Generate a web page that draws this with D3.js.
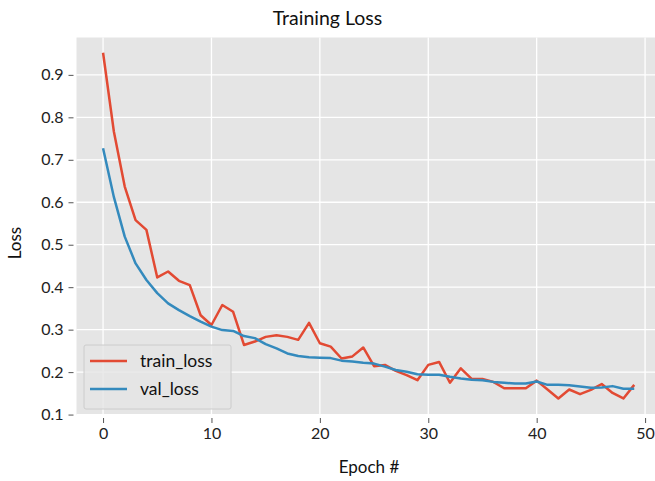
<!DOCTYPE html>
<html>
<head>
<meta charset="utf-8">
<script src="https://cdn.jsdelivr.net/npm/d3@7"></script>
<style>
  html, body { margin: 0; padding: 0; background: #ffffff; }
  svg { display: block; }
  text { font-family: Lato, "Open Sans", sans-serif; }
</style>
</head>
<body>
<svg id="chart" width="655" height="481"></svg>
<script>
const epochs = d3.range(0, 50);
const trainLoss = [0.952, 0.766, 0.637, 0.558, 0.535, 0.423, 0.437, 0.415, 0.405, 0.334,
                   0.311, 0.358, 0.342, 0.264, 0.272, 0.283, 0.287, 0.283, 0.276, 0.316,
                   0.268, 0.260, 0.232, 0.237, 0.258, 0.214, 0.217, 0.203, 0.193, 0.181,
                   0.217, 0.224, 0.175, 0.209, 0.184, 0.184, 0.177, 0.162, 0.162, 0.162,
                   0.180, 0.159, 0.138, 0.159, 0.148, 0.158, 0.172, 0.151, 0.138, 0.170];
const valLoss = [0.727, 0.612, 0.519, 0.456, 0.417, 0.386, 0.362, 0.346, 0.332, 0.319,
                 0.307, 0.299, 0.297, 0.285, 0.280, 0.266, 0.256, 0.244, 0.238, 0.235,
                 0.234, 0.233, 0.227, 0.225, 0.222, 0.220, 0.213, 0.205, 0.201, 0.195,
                 0.194, 0.194, 0.189, 0.185, 0.182, 0.181, 0.177, 0.175, 0.173, 0.173,
                 0.178, 0.170, 0.170, 0.169, 0.166, 0.163, 0.164, 0.167, 0.161, 0.161];
const xTicks = [0, 10, 20, 30, 40, 50];
const yTicks = [0.1, 0.2, 0.3, 0.4, 0.5, 0.6, 0.7, 0.8, 0.9];
const seriesNames = ["train_loss", "val_loss"];
const seriesColors = ["#E24A33", "#348ABD"];
const titleText = "Training Loss";
const xLabel = "Epoch #";
const yLabel = "Loss";

const svg = d3.select("#chart");
const L = 76.5, R = 660.8, T = 37.5, B = 415;

const x = d3.scaleLinear().domain([-2.45, 51.45]).range([L, R]);
const y = d3.scaleLinear().domain([0.099, 0.988]).range([B, T]);

// background
svg.append("rect").attr("x", L).attr("y", T).attr("width", R - L).attr("height", B - T)
  .attr("fill", "#E5E5E5");

// grid
const g = svg.append("g");
g.selectAll(".vg").data(xTicks).join("line")
  .attr("x1", d => x(d)).attr("x2", d => x(d)).attr("y1", T).attr("y2", B)
  .attr("stroke", "#ffffff").attr("stroke-width", 1.3);
g.selectAll(".hg").data(yTicks).join("line")
  .attr("y1", d => y(d)).attr("y2", d => y(d)).attr("x1", L).attr("x2", R)
  .attr("stroke", "#ffffff").attr("stroke-width", 1.3);

// axes
const xAxis = d3.axisBottom(x).tickValues(xTicks).tickFormat(d3.format("d"))
  .tickSizeInner(5).tickSizeOuter(0).tickPadding(5);
const xg = svg.append("g").attr("transform", `translate(0,${B + 3})`).call(xAxis);
xg.select(".domain").remove();
xg.selectAll("line").attr("stroke", "#555555").attr("stroke-width", 1);
xg.selectAll("text").attr("fill", "#222222").style("font-size", "16px")
  .style("font-family", "Lato, 'Open Sans', sans-serif");

const yAxis = d3.axisLeft(y).tickValues(yTicks).tickFormat(d3.format(".1f"))
  .tickSizeInner(5).tickSizeOuter(0).tickPadding(5);
const yg = svg.append("g").attr("transform", `translate(${L - 3},0)`).call(yAxis);
yg.select(".domain").remove();
yg.selectAll("line").attr("stroke", "#555555").attr("stroke-width", 1);
yg.selectAll("text").attr("fill", "#222222").style("font-size", "16px")
  .style("font-family", "Lato, 'Open Sans', sans-serif");

// lines
const clip = svg.append("clipPath").attr("id", "clip").append("rect")
  .attr("x", L).attr("y", T).attr("width", R - L).attr("height", B - T);
const line = d3.line().x((d, i) => x(epochs[i])).y(d => y(d));
[trainLoss, valLoss].forEach((s, k) => {
  svg.append("path").datum(s).attr("d", line)
    .attr("fill", "none").attr("stroke", seriesColors[k]).attr("stroke-width", 2.5)
    .attr("stroke-linejoin", "round").attr("clip-path", "url(#clip)");
});

// legend
const lg = svg.append("g");
lg.append("rect").attr("x", 84).attr("y", 345).attr("width", 147).attr("height", 64)
  .attr("rx", 2).attr("fill", "rgba(229,229,229,0.8)").attr("stroke", "#cccccc").attr("stroke-width", 1);
seriesNames.forEach((n, k) => {
  const yy = 361 + k * 28;
  lg.append("line").attr("x1", 90).attr("x2", 127).attr("y1", yy).attr("y2", yy)
    .attr("stroke", seriesColors[k]).attr("stroke-width", 2.5);
  lg.append("text").attr("x", 140).attr("y", yy + 6).text(n)
    .attr("fill", "#111111").style("font-size", "17.5px");
});

// titles
svg.append("text").attr("x", 327.5).attr("y", 25).attr("text-anchor", "middle")
  .attr("fill", "#111111").style("font-size", "19.5px").text(titleText);
svg.append("text").attr("x", 369).attr("y", 473).attr("text-anchor", "middle")
  .attr("fill", "#111111").style("font-size", "17px").text(xLabel);
svg.append("text").attr("transform", "translate(21,243) rotate(-90)").attr("text-anchor", "middle")
  .attr("fill", "#111111").style("font-size", "17px").text(yLabel);
</script>
</body>
</html>
